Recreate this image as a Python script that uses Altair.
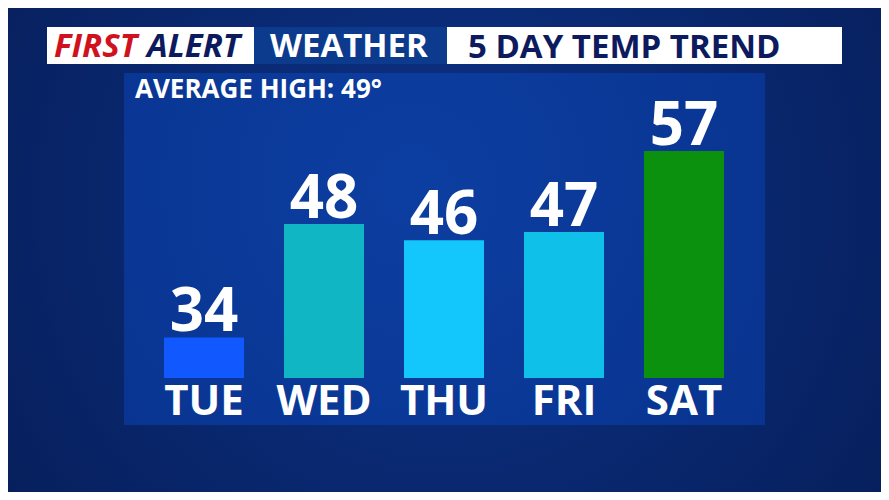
import altair as alt
import pandas as pd

# ---- data ----
days = ["TUE", "WED", "THU", "FRI", "SAT"]
highs = [34, 48, 46, 47, 57]
bar_colors = ["#1158ff", "#10b6c3", "#13c6fb", "#0fc0e8", "#0b910d"]
avg_high = 49
header_left = ["FIRST", "ALERT"]
header_mid = "WEATHER"
header_right = "5 DAY TEMP TREND"

FONT = "Open Sans"
W, H = 873, 484

df = pd.DataFrame({"day": days, "high": highs})
one = alt.Data(values=[{"k": 1}])

x_enc = alt.X("day:N", sort=days,
              scale=alt.Scale(domain=days, range=[136, 736],
                              paddingInner=1 / 3, paddingOuter=1 / 6),
              axis=None)
y_scale = alt.Scale(domain=[29, 57], range=[370, 143], zero=False, nice=False)


def box(x1, x2, y1, y2, fill):
    return alt.Chart(one).mark_rect(fill=fill).encode(
        x=alt.value(x1), x2=alt.value(x2), y=alt.value(y1), y2=alt.value(y2))


def label(txt, x, y, size, color, italic=False):
    return alt.Chart(one).mark_text(
        text=txt, font=FONT, fontSize=size, fontWeight="bold",
        fontStyle="italic" if italic else "normal", color=color,
        align="left", baseline="alphabetic").encode(x=alt.value(x), y=alt.value(y))


background = alt.Chart(one).mark_rect(fill={
    "gradient": "radial", "x1": 0.5, "y1": 0.45, "r1": 0.0,
    "x2": 0.5, "y2": 0.45, "r2": 0.75,
    "stops": [{"offset": 0, "color": "#0c3287"},
              {"offset": 1, "color": "#061b52"}]}).encode(
    x=alt.value(0), x2=alt.value(W), y=alt.value(0), y2=alt.value(H))

panel = alt.Chart(one).mark_rect(fill={
    "gradient": "radial", "x1": 0.45, "y1": 0.4, "r1": 0.0,
    "x2": 0.45, "y2": 0.4, "r2": 0.8,
    "stops": [{"offset": 0, "color": "#0c3ea1"},
              {"offset": 1, "color": "#08318b"}]}).encode(
    x=alt.value(116), x2=alt.value(757), y=alt.value(65), y2=alt.value(417))

hdr1 = box(39, 246, 19, 56, "#ffffff")
hdr2 = box(246, 439, 19, 56, "#0c3a8d")
hdr3 = box(439, 834, 19, 56, "#ffffff")

t_first = label(header_left[0], 46, 49, 33, "#d0121f", italic=True)
t_alert = label(header_left[1], 139, 49, 33, "#0d1a5e", italic=True)
t_weather = label(header_mid, 262, 49, 33, "#ffffff")
t_trend = label(header_right, 460, 50, 33, "#0d1a5e")
t_avg = label(f"AVERAGE HIGH: {avg_high}°", 127, 90, 26, "#ffffff")

base = alt.Chart(df)
bars = base.mark_bar().encode(
    x=x_enc,
    y=alt.Y("high:Q", scale=y_scale, axis=None),
    y2=alt.datum(29),
    color=alt.Color("day:N", scale=alt.Scale(domain=days, range=bar_colors), legend=None),
)
values = base.mark_text(font=FONT, fontSize=60, fontWeight="bold", color="#ffffff",
                        baseline="alphabetic", dy=-6).encode(
    x=x_enc, y=alt.Y("high:Q", scale=y_scale, axis=None), text="high:Q")
day_labels = base.mark_text(font=FONT, fontSize=42, fontWeight="bold", color="#ffffff",
                            baseline="alphabetic", dy=37).encode(
    x=x_enc, y=alt.Y(datum=29, scale=y_scale, axis=None), text="day:N")

chart = alt.layer(
    background, hdr1, hdr2, hdr3, t_first, t_alert, t_weather, t_trend,
    panel, t_avg, bars, values, day_labels
).properties(
    width=W, height=H, padding=0,
    autosize=alt.AutoSizeParams(type="none"),
    background="#08245f",
).configure_view(stroke=None)

chart.save("out.html", embed_options={"renderer": "svg", "actions": False})
